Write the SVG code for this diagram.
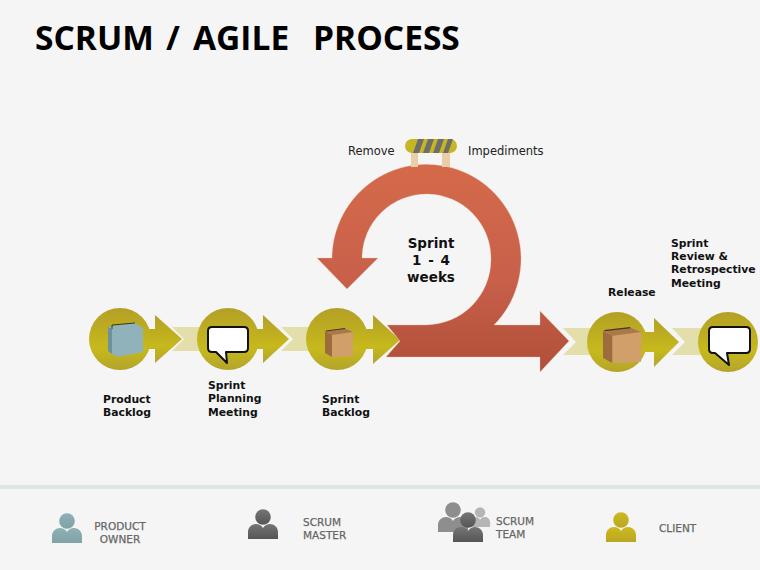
<svg xmlns="http://www.w3.org/2000/svg" xmlns:xlink="http://www.w3.org/1999/xlink" width="760" height="570" viewBox="0 0 760 570">
<style>
text{font-family:"DejaVu Sans","Liberation Sans",sans-serif;fill:#111}
.t{font-size:10.8px;font-weight:bold}
.r{font-size:11.5px;fill:#222}
.s{font-size:13.5px;font-weight:bold;text-anchor:middle;word-spacing:2px}
.f{font-size:10.5px;fill:#666;stroke:#666;stroke-width:.25px}
.g{fill:url(#gold)}
.p{fill:#e3deaa}
.b{fill:#fff;stroke:#111;stroke-width:2;stroke-linejoin:round}
</style>
<defs>
<linearGradient id="gold" x1="0" y1="0" x2="0" y2="1"><stop offset="0" stop-color="#b3a026"/><stop offset=".65" stop-color="#c7b91c"/><stop offset="1" stop-color="#b3a42c"/></linearGradient>
<linearGradient id="red" x1="0" y1="0" x2="0" y2="1"><stop offset="0" stop-color="#d56a4a"/><stop offset=".55" stop-color="#c8604a"/><stop offset="1" stop-color="#b04f38"/></linearGradient>
<linearGradient id="pTeal" x1="0" y1="0" x2="0" y2="1"><stop offset="0" stop-color="#8fb0b4"/><stop offset="1" stop-color="#80a3a6"/></linearGradient>
<linearGradient id="pDark" x1="0" y1="0" x2="0" y2="1"><stop offset="0" stop-color="#757575"/><stop offset="1" stop-color="#555"/></linearGradient>
<linearGradient id="pGold" x1="0" y1="0" x2="0" y2="1"><stop offset="0" stop-color="#cdb91e"/><stop offset="1" stop-color="#b9a722"/></linearGradient>
<g id="person"><circle cx="15" cy="8" r="7.8"/><path d="M0 30V23C0 18 4 15 8 15C11 15 13 16 15 19C17 16 19 15 22 15C26 15 30 18 30 23V30Z"/></g>
<g id="brownbox"><path d="M0 3L20 0L28 4V27L8 29L0 25Z" fill="#c99a62"/><path d="M0 3L7 7V29L0 25Z" fill="#9c6c3c"/><path d="M7 7L28 4V28L7 29Z" fill="#d1a06a"/><path d="M7 7L1 3L20 0.500L28 4" fill="#a87a48"/><path d="M1 3L20 0.500" stroke="#4a3420" stroke-width="1" fill="none"/></g>
</defs>
<rect width="760" height="570" fill="#f5f5f5"/>
<rect x="0" y="485" width="760" height="4" fill="#dfe5e3"/>
<text y="50" style="font-family:'Open Sans','Liberation Sans',sans-serif;font-size:33.500px;font-weight:bold;fill:#000"><tspan x="35">SCRUM</tspan><tspan x="166">/</tspan><tspan x="193">AGILE</tspan><tspan x="313">PROCESS</tspan></text>

<g id="connectors">
<path class="p" d="M172 327H205V351H172L184 339Z"/>
<path class="p" d="M281 327H312V351H281L293 339Z"/>
<path class="p" d="M563 328H592V355H563L576 342Z"/>
<path class="p" d="M672 328H704V355H672L685 342Z"/>
<path class="g" d="M145 329H155V315L182 339L155 363V349H145Z"/>
<path class="g" d="M250 329H263V315L289 339L263 363V349H250Z"/>
<path class="g" d="M360 329H373V315L400 340L373 364V349H360Z"/>
<path class="g" d="M640 332H654V318L679 342L654 367V352H640Z"/>
<path id="sprint-loop" fill="url(#red)" stroke="#f0c8b4" stroke-opacity=".5" stroke-width=".6" d="M387 325H426A65.500 65.500 0 0 0 491 259A64.500 64.500 0 0 0 362 258H378L347 289L317 258H332A94.500 94.500 0 1 1 494 325H540V311L569 341L540 372V357H386L400 341Z"/>
</g>

<g id="product-backlog">
<circle cx="120" cy="339" r="31" class="g"/>
<path d="M108 327L135 323L143 328V352L117 357L108 351Z" fill="#8fb2bb"/>
<path d="M108 327L112 329V354L108 351Z" fill="#6e929b"/>
<path d="M112 329V325L135 323" fill="none" stroke="#2e3a3e" stroke-width="1"/>
<text class="t" x="103" y="403">Product</text><text class="t" x="103" y="416">Backlog</text>
</g>
<g id="sprint-planning">
<circle cx="228" cy="339" r="31" class="g"/>
<path class="b" d="M212 327H244Q248 327 248 331V348Q248 352 244 352H226L227 363L216 352H212Q208 352 208 348V331Q208 327 212 327Z"/>
<text class="t" x="208" y="389">Sprint</text><text class="t" x="208" y="402">Planning</text><text class="t" x="208" y="416">Meeting</text>
</g>
<g id="sprint-backlog">
<circle cx="337" cy="339" r="31" class="g"/>
<use xlink:href="#brownbox" href="#brownbox" transform="translate(325 328)"/>
<text class="t" x="322" y="403">Sprint</text><text class="t" x="322" y="416">Backlog</text>
</g>
<g id="sprint-cycle">
<text class="s" x="431" y="248">Sprint</text><text class="s" x="431" y="265">1 - 4</text><text class="s" x="431" y="282">weeks</text>
</g>
<g id="impediments">
<rect x="411" y="152" width="7" height="15" fill="#e8cfa8"/><rect x="442" y="152" width="8" height="15" fill="#e8cfa8"/>
<rect x="405" y="139" width="52" height="14" rx="7" fill="#c6b624"/>
<path d="M413 153L418 139H424L419 153ZM423 153L428 139H434L429 153ZM433 153L438 139H444L439 153ZM443 153L448 139H453L448 153Z" fill="#6e6e68"/>
<text class="r" x="348" y="155">Remove</text><text class="r" x="468" y="155">Impediments</text>
</g>
<g id="release">
<circle cx="617" cy="342" r="30" class="g"/>
<use xlink:href="#brownbox" href="#brownbox" transform="translate(603 327) scale(1.36 1.24)"/>
<text class="t" x="608" y="296">Release</text>
</g>
<g id="sprint-review">
<circle cx="728" cy="342" r="30" class="g"/>
<path class="b" d="M713 327H746Q750 327 750 331V349Q750 353 746 353H727L729 365L715 353H713Q709 353 709 349V331Q709 327 713 327Z"/>
<text class="t" x="671" y="247">Sprint</text><text class="t" x="671" y="260">Review &amp;</text><text class="t" x="671" y="273">Retrospective</text><text class="t" x="671" y="287">Meeting</text>
</g>
<g id="product-owner">
<use xlink:href="#person" href="#person" x="52" y="513" fill="url(#pTeal)"/>
<text class="f" x="120" y="530" text-anchor="middle">PRODUCT</text><text class="f" x="120" y="543" text-anchor="middle">OWNER</text>
</g>
<g id="scrum-master">
<use xlink:href="#person" href="#person" x="248" y="509" fill="url(#pDark)"/>
<text class="f" x="303" y="526">SCRUM</text><text class="f" x="303" y="539">MASTER</text>
</g>
<g id="scrum-team">
<use xlink:href="#person" href="#person" transform="translate(470 507) scale(.67)" fill="#b5b5b5"/>
<use xlink:href="#person" href="#person" x="438" y="502" fill="#8e8e8e"/>
<use xlink:href="#person" href="#person" x="453" y="512" fill="url(#pDark)"/>
<text class="f" x="496" y="525">SCRUM</text><text class="f" x="496" y="538">TEAM</text>
</g>
<g id="client">
<use xlink:href="#person" href="#person" x="606" y="512" fill="url(#pGold)"/>
<text class="f" x="659" y="532">CLIENT</text>
</g>
</svg>
